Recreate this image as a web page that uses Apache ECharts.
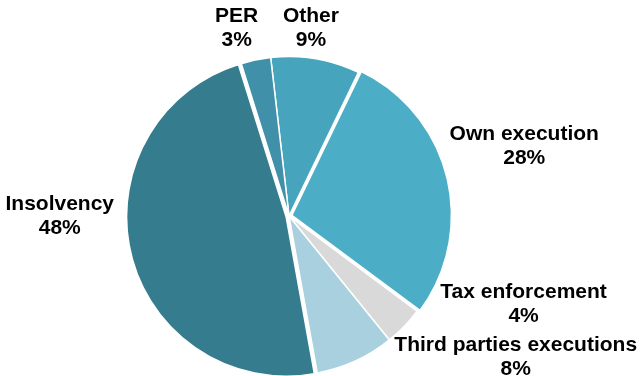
<!DOCTYPE html>
<html>
<head>
<meta charset="utf-8">
<script src="https://cdn.jsdelivr.net/npm/echarts@6/dist/echarts.min.js"></script>
<style>
  html, body { margin: 0; padding: 0; background: #ffffff; }
  #chart { width: 641px; height: 376px; }
</style>
</head>
<body>
<div id="chart"></div>
<script>
// Enforcement procedures by type (share of total, %)
const categories = ['Other', 'Own execution', 'Tax enforcement', 'Third parties executions', 'Insolvency', 'PER'];
const shares = [9, 28, 4, 8, 48, 3];
const sliceColors = ['#46a4bd', '#4badc6', '#d9d9d9', '#a8d0de', '#367c8f', '#3f90a8'];
// The two largest slices are pulled slightly away from the centre
const pulledOut = ['Own execution', 'Insolvency'];

// Nudges that move each label off its default outside spot into a clear area
const labelNudge = {
  'Other': [-13, -11],
  'Own execution': [53, -26],
  'Tax enforcement': [100, -36],
  'Third parties executions': [147, -22],
  'Insolvency': [-47, -43],
  'PER': [-10, -12]
};

const chart = echarts.init(document.getElementById('chart'), null, { renderer: 'canvas' });

chart.setOption({
  backgroundColor: '#ffffff',
  animation: false,
  series: [{
    type: 'pie',
    center: [289, 216],
    radius: [0, 159.5],
    startAngle: 96.6,
    clockwise: true,
    selectedMode: 'multiple',
    selectedOffset: 3,
    avoidLabelOverlap: false,
    itemStyle: { borderColor: '#ffffff', borderWidth: 1.5 },
    label: {
      show: true,
      position: 'outside',
      formatter: '{b}\n{c}%',
      fontFamily: 'Liberation Sans, Arial, sans-serif',
      fontWeight: 'bold',
      fontSize: 21,
      lineHeight: 24,
      color: '#000000'
    },
    labelLine: { show: false, length: 20, length2: 0 },
    labelLayout: function (params) {
      const name = categories[params.dataIndex];
      const n = labelNudge[name] || [0, 0];
      return { dx: n[0], dy: n[1], align: 'center', verticalAlign: 'middle' };
    },
    emphasis: { disabled: true },
    select: { disabled: false, itemStyle: { borderColor: '#ffffff', borderWidth: 1.5 } },
    data: categories.map((name, i) => ({
      name: name,
      value: shares[i],
      selected: pulledOut.indexOf(name) !== -1,
      itemStyle: { color: sliceColors[i] }
    }))
  }]
});
</script>
</body>
</html>
